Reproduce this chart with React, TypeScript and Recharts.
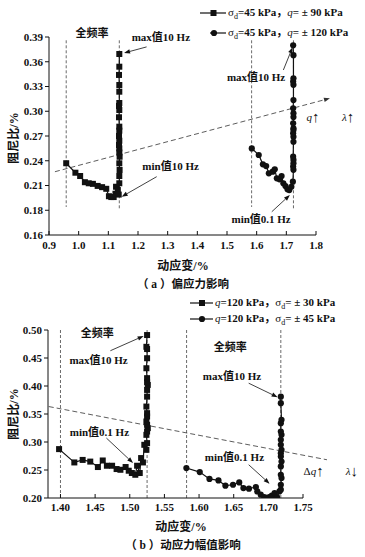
import React from "react";
import { ScatterChart, Scatter, XAxis, YAxis, ReferenceLine, ReferenceDot } from "recharts";

const FONT = "'Liberation Serif', 'Times New Roman', 'Noto Sans CJK SC', serif";
const INK = "#111";

// (a) 偏应力影响 — σd=45 kPa, q=±90 kPa (squares)
const aSqStrain = [
  0.958, 0.989, 1.005, 1.021, 1.034, 1.048, 1.064, 1.079, 1.093, 1.102, 1.11, 1.118, 1.124, 1.126, 1.132, 1.135,
  1.137, 1.137, 1.138, 1.137, 1.138, 1.137, 1.137, 1.136, 1.137, 1.136, 1.137, 1.137, 1.136, 1.137, 1.136, 1.137,
  1.137, 1.137, 1.136, 1.137, 1.137,
];
const aSqDamping = [
  0.237, 0.2255, 0.2215, 0.214, 0.2127, 0.212, 0.2095, 0.208, 0.206, 0.197, 0.196, 0.196, 0.2, 0.2085, 0.2045, 0.199,
  0.2127, 0.2215, 0.2288, 0.2369, 0.2449, 0.25, 0.255, 0.2591, 0.2643, 0.27, 0.2765, 0.2813, 0.2927, 0.3015, 0.3064,
  0.31, 0.3237, 0.3318, 0.344, 0.354, 0.3694,
];
// σd=45 kPa, q=±120 kPa (circles)
const aCiStrain = [
  1.5835, 1.607, 1.621, 1.632, 1.641, 1.654, 1.661, 1.668, 1.677, 1.684, 1.69, 1.697, 1.704, 1.71, 1.717, 1.722,
  1.724, 1.723, 1.724, 1.724, 1.723, 1.724, 1.724, 1.723, 1.724, 1.724, 1.723, 1.724, 1.724, 1.723, 1.724, 1.724,
  1.723, 1.724, 1.724, 1.723,
];
const aCiDamping = [
  0.255, 0.247, 0.2357, 0.2336, 0.2248, 0.2268, 0.2296, 0.2187, 0.2175, 0.2215, 0.2127, 0.2094, 0.2054, 0.2045,
  0.2085, 0.2146, 0.229, 0.233, 0.237, 0.241, 0.245, 0.263, 0.269, 0.2733, 0.2773, 0.2793, 0.2854, 0.293, 0.2975,
  0.3036, 0.3136, 0.332, 0.336, 0.34, 0.368, 0.38,
];
const aXTicks = [0.9, 1.0, 1.1, 1.2, 1.3, 1.4, 1.5, 1.6, 1.7, 1.8];
const aYTicks = [0.15, 0.18, 0.21, 0.24, 0.27, 0.3, 0.33, 0.36, 0.39];
const aYLabels = ["0.16", "0.18", "0.21", "0.24", "0.27", "0.30", "0.33", "0.36", "0.39"];

// (b) 动应力幅值影响 — q=120 kPa, σd=±30 kPa (squares)
const bSqStrain = [
  1.398, 1.42, 1.432, 1.443, 1.454, 1.461, 1.467, 1.4745, 1.481, 1.4865, 1.494, 1.4985, 1.503, 1.508, 1.5106, 1.5144,
  1.5164, 1.519, 1.521, 1.524, 1.525, 1.524, 1.525, 1.526, 1.525, 1.524, 1.525, 1.525, 1.524, 1.525, 1.525, 1.526,
  1.525, 1.525, 1.524, 1.525, 1.525, 1.524, 1.525,
];
const bSqDamping = [
  0.2873, 0.2635, 0.268, 0.265, 0.2553, 0.267, 0.2576, 0.2576, 0.2517, 0.2504, 0.2553, 0.2487, 0.2446, 0.2415, 0.2576,
  0.2446, 0.2713, 0.2635, 0.295, 0.286, 0.298, 0.3128, 0.3187, 0.3248, 0.3307, 0.3366, 0.3455, 0.3515, 0.3633, 0.381,
  0.393, 0.402, 0.4068, 0.414, 0.4317, 0.4496, 0.466, 0.47, 0.491,
];
// q=120 kPa, σd=±45 kPa (circles)
const bCiStrain = [
  1.5817, 1.601, 1.615, 1.628, 1.638, 1.649, 1.658, 1.664, 1.672, 1.682, 1.684, 1.689, 1.694, 1.699, 1.705, 1.709,
  1.7125, 1.716, 1.718, 1.718, 1.719, 1.718, 1.718, 1.719, 1.718, 1.718, 1.719, 1.718, 1.718, 1.719, 1.718, 1.718,
  1.719, 1.718, 1.718,
];
const bCiDamping = [
  0.2535, 0.2463, 0.234, 0.2314, 0.222, 0.2237, 0.2278, 0.2178, 0.2166, 0.2196, 0.2118, 0.2059, 0.2018, 0.2005, 0.2041,
  0.2089, 0.2018, 0.2118, 0.2148, 0.2237, 0.2357, 0.2415, 0.2563, 0.265, 0.274, 0.28, 0.286, 0.295, 0.304, 0.3128,
  0.3187, 0.3337, 0.3396, 0.3693, 0.381,
];
const bXTicks = [1.4, 1.45, 1.5, 1.55, 1.6, 1.65, 1.7, 1.75];
const bYTicks = [0.2, 0.25, 0.3, 0.35, 0.4, 0.45, 0.5];
const bYLabels = ["0.20", "0.25", "0.30", "0.35", "0.40", "0.45", "0.50"];

type Pt = { x: number; y: number };
type Part = { t: string; i?: boolean; big?: boolean };
type Note = { x: number; y: number; parts: Part[] };
type Seg = { x1: number; y1: number; x2: number; y2: number };

const zip = (xs: number[], ys: number[]): Pt[] => xs.map((x, i) => ({ x, y: ys[i] }));

// annotations (data coordinates)
const aGuides: Seg[] = [
  { x1: 0.958, y1: 0.386, x2: 0.958, y2: 0.184 },
  { x1: 1.137, y1: 0.386, x2: 1.137, y2: 0.1815 },
  { x1: 1.583, y1: 0.386, x2: 1.583, y2: 0.184 },
  { x1: 1.724, y1: 0.386, x2: 1.724, y2: 0.1815 },
];
const aTrend: Seg = { x1: 0.92, y1: 0.2267, x2: 1.847, y2: 0.3157 };
const aArrows: Seg[] = [
  { x1: 1.229, y1: 0.378, x2: 1.153, y2: 0.3706 },
  { x1: 1.263, y1: 0.2207, x2: 1.145, y2: 0.1964 },
  { x1: 1.69, y1: 0.35, x2: 1.721, y2: 0.3775 },
  { x1: 1.651, y1: 0.1782, x2: 1.712, y2: 0.1985 },
];
const aNotes: Note[] = [
  { x: 1.045, y: 0.395, parts: [{ t: "全频率" }] },
  { x: 1.277, y: 0.39, parts: [{ t: "max值10 Hz" }] },
  { x: 1.31, y: 0.2336, parts: [{ t: "min值10 Hz" }] },
  { x: 1.598, y: 0.3412, parts: [{ t: "max值10 Hz" }] },
  { x: 1.615, y: 0.169, parts: [{ t: "min值0.1 Hz" }] },
  { x: 1.79, y: 0.2934, parts: [{ t: "q", i: true }, { t: "↑", big: true }] },
  { x: 1.908, y: 0.2934, parts: [{ t: "λ", i: true }, { t: "↑", big: true }] },
];

const bGuides: Seg[] = [
  { x1: 1.4, y1: 0.5, x2: 1.4, y2: 0.2 },
  { x1: 1.525, y1: 0.5, x2: 1.525, y2: 0.2 },
  { x1: 1.582, y1: 0.5, x2: 1.582, y2: 0.2 },
  { x1: 1.718, y1: 0.5, x2: 1.718, y2: 0.2 },
];
const bTrend: Seg = { x1: 1.3831, y1: 0.3633, x2: 1.7846, y2: 0.2683 };
const bArrows: Seg[] = [
  { x1: 1.472, y1: 0.463, x2: 1.52, y2: 0.4893 },
  { x1: 1.6716, y1: 0.405, x2: 1.7134, y2: 0.38 },
  { x1: 1.4663, y1: 0.307, x2: 1.5048, y2: 0.2624 },
  { x1: 1.6716, y1: 0.2594, x2: 1.7018, y2: 0.2255 },
];
const bNotes: Note[] = [
  { x: 1.453, y: 0.495, parts: [{ t: "全频率" }] },
  { x: 1.455, y: 0.4465, parts: [{ t: "max值10 Hz" }] },
  { x: 1.645, y: 0.47, parts: [{ t: "全频率" }] },
  { x: 1.6476, y: 0.418, parts: [{ t: "max值10 Hz" }] },
  { x: 1.4562, y: 0.317, parts: [{ t: "min值0.1 Hz" }] },
  { x: 1.651, y: 0.273, parts: [{ t: "min值0.1 Hz" }] },
  { x: 1.7653, y: 0.2474, parts: [{ t: "Δ" }, { t: "q", i: true }, { t: "↑", big: true }] },
  { x: 1.8207, y: 0.2474, parts: [{ t: "λ", i: true }, { t: "↓", big: true }] },
];

function Square(p: any) {
  return <rect x={p.cx - 3} y={p.cy - 3} width={6} height={6} fill={INK} />;
}
function Dot(p: any) {
  return <circle cx={p.cx} cy={p.cy} r={3.1} fill={INK} />;
}

function ArrowLine(p: any) {
  const { x1, y1, x2, y2, head, dash, color, width } = p;
  if ([x1, y1, x2, y2].some((v) => v == null || Number.isNaN(v))) return null;
  if (!head) {
    return <line x1={x1} y1={y1} x2={x2} y2={y2} stroke={color} strokeWidth={width} strokeDasharray={dash} />;
  }
  const ang = Math.atan2(y2 - y1, x2 - x1);
  const L = 6;
  const W = 2.2;
  const bx = x2 - L * Math.cos(ang);
  const by = y2 - L * Math.sin(ang);
  const pts = `${x2},${y2} ${bx - W * Math.sin(ang)},${by + W * Math.cos(ang)} ${bx + W * Math.sin(ang)},${by - W * Math.cos(ang)}`;
  return (
    <g>
      <line x1={x1} y1={y1} x2={bx} y2={by} stroke={color} strokeWidth={width} strokeDasharray={dash} />
      <polygon points={pts} fill={color} />
    </g>
  );
}

function NoteText({ cx, cy, parts }: { cx: number; cy: number; parts: Part[] }) {
  return (
    <text
      x={cx}
      y={cy}
      textAnchor="middle"
      dominantBaseline="central"
      fontFamily={FONT}
      fontSize={11}
      fontWeight="bold"
      fill={INK}
    >
      {parts.map((pt, i) => (
        <tspan
          key={i}
          fontStyle={pt.i ? "italic" : "normal"}
          fontWeight={pt.t.length === 1 ? "normal" : "bold"}
          fontSize={pt.big ? 15 : 11}
        >
          {pt.t}
        </tspan>
      ))}
    </text>
  );
}

type PanelCfg = {
  height: number;
  margin: { top: number; right: number; bottom: number; left: number };
  xDomain: [number, number];
  xTicks: number[];
  xDigits: number;
  xAxisHeight: number;
  xTickMargin: number;
  yDomain: [number, number];
  yTicks: number[];
  yLabels: string[];
  yAxisWidth: number;
  squares: Pt[];
  circles: Pt[];
  guides: Seg[];
  trend: Seg;
  trendHead: boolean;
  arrows: Seg[];
  notes: Note[];
};

const tickStyle = { fill: INK, fontSize: 11, fontFamily: FONT, fontWeight: "bold" };

function Panel({ cfg }: { cfg: PanelCfg }) {
  const seg = (s: Seg, key: string, opts: any) => (
    <ReferenceLine
      key={key}
      segment={[
        { x: s.x1, y: s.y1 },
        { x: s.x2, y: s.y2 },
      ]}
      ifOverflow="visible"
      shape={(props: any) => <ArrowLine {...props} {...opts} />}
    />
  );
  return (
    <ScatterChart width={365} height={cfg.height} margin={cfg.margin}>
      <XAxis
        type="number"
        dataKey="x"
        domain={cfg.xDomain}
        ticks={cfg.xTicks}
        interval={0}
        allowDataOverflow
        height={cfg.xAxisHeight}
        tickFormatter={(v: number) => v.toFixed(cfg.xDigits)}
        tickSize={-4}
        tickMargin={cfg.xTickMargin}
        axisLine={{ stroke: INK }}
        tickLine={{ stroke: INK }}
        tick={tickStyle}
      />
      <YAxis
        type="number"
        dataKey="y"
        domain={cfg.yDomain}
        ticks={cfg.yTicks}
        interval={0}
        allowDataOverflow
        width={cfg.yAxisWidth}
        tickFormatter={(v: number) => cfg.yLabels[cfg.yTicks.findIndex((t) => Math.abs(t - v) < 1e-6)] ?? ""}
        tickSize={4}
        tickMargin={2}
        axisLine={{ stroke: INK }}
        tickLine={{ stroke: INK }}
        tick={tickStyle}
      />
      {cfg.guides.map((g, i) => seg(g, `g${i}`, { color: "#444", width: 0.8, dash: "3 2" }))}
      {seg(cfg.trend, "trend", { color: "#333", width: 0.8, dash: "5 3", head: cfg.trendHead })}
      {cfg.arrows.map((a, i) => seg(a, `a${i}`, { color: INK, width: 0.8, head: true }))}
      <Scatter
        data={cfg.squares}
        line={{ stroke: INK, strokeWidth: 1.2 }}
        lineType="joint"
        shape={Square}
        isAnimationActive={false}
      />
      <Scatter
        data={cfg.circles}
        line={{ stroke: INK, strokeWidth: 1.2 }}
        lineType="joint"
        shape={Dot}
        isAnimationActive={false}
      />
      {cfg.notes.map((n, i) => (
        <ReferenceDot
          key={`n${i}`}
          x={n.x}
          y={n.y}
          r={0}
          ifOverflow="visible"
          shape={(p: any) => <NoteText cx={p.cx} cy={p.cy} parts={n.parts} />}
        />
      ))}
    </ScatterChart>
  );
}

const panelA: PanelCfg = {
  height: 255,
  margin: { top: 37, right: 49, bottom: 0, left: 0 },
  xDomain: [0.9, 1.8],
  xTicks: aXTicks,
  xDigits: 1,
  xAxisHeight: 20,
  xTickMargin: 10,
  yDomain: [0.15, 0.39],
  yTicks: aYTicks,
  yLabels: aYLabels,
  yAxisWidth: 49,
  squares: zip(aSqStrain, aSqDamping),
  circles: zip(aCiStrain, aCiDamping),
  guides: aGuides,
  trend: aTrend,
  trendHead: true,
  arrows: aArrows,
  notes: aNotes,
};

const panelB: PanelCfg = {
  height: 230,
  margin: { top: 40, right: 62, bottom: 0, left: 0 },
  xDomain: [1.382, 1.75],
  xTicks: bXTicks,
  xDigits: 2,
  xAxisHeight: 22,
  xTickMargin: 9,
  yDomain: [0.2, 0.5],
  yTicks: bYTicks,
  yLabels: bYLabels,
  yAxisWidth: 48,
  squares: zip(bSqStrain, bSqDamping),
  circles: zip(bCiStrain, bCiDamping),
  guides: bGuides,
  trend: bTrend,
  trendHead: false,
  arrows: bArrows,
  notes: bNotes,
};

function LegendRow({ top, lineFrom, markerX, textLeft, marker, children }: any) {
  const w = textLeft - lineFrom;
  return (
    <div style={{ position: "absolute", top: top - 7, left: lineFrom, height: 14, display: "flex", alignItems: "center", whiteSpace: "nowrap" }}>
      <svg width={w} height={14} style={{ display: "block" }}>
        <line x1={0} y1={7} x2={w - 2} y2={7} stroke={INK} strokeWidth={1.2} />
        {marker === "square" ? (
          <rect x={markerX - lineFrom - 3} y={4} width={6} height={6} fill={INK} />
        ) : (
          <circle cx={markerX - lineFrom} cy={7} r={3.1} fill={INK} />
        )}
      </svg>
      <span style={{ fontSize: 11, lineHeight: "14px", color: INK, fontWeight: "bold" }}>{children}</span>
    </div>
  );
}

const Sub = ({ children }: any) => (
  <span style={{ fontSize: 8, position: "relative", top: 3, fontWeight: "normal" }}>{children}</span>
);
const Q = () => <i style={{ fontWeight: "normal" }}>q</i>;
const Sigma = () => <span style={{ fontWeight: "normal" }}>σ</span>;

function Centered({ x, y, size, children, rotate }: any) {
  return (
    <div
      style={{
        position: "absolute",
        left: x - 100,
        top: y - 8,
        width: 200,
        height: 16,
        lineHeight: "16px",
        textAlign: "center",
        fontSize: size,
        color: INK,
        fontWeight: "bold",
        transform: rotate ? "rotate(-90deg)" : undefined,
        whiteSpace: "nowrap",
      }}
    >
      {children}
    </div>
  );
}

export default function App() {
  return (
    <div style={{ position: "absolute", left: 0, top: 0, width: 365, height: 557, background: "#fff", fontFamily: FONT, overflow: "hidden" }}>
      <div style={{ position: "absolute", left: 0, top: 0 }}>
        <Panel cfg={panelA} />
      </div>
      <div style={{ position: "absolute", left: 0, top: 290 }}>
        <Panel cfg={panelB} />
      </div>

      <LegendRow top={13.3} lineFrom={200} markerX={213.5} textLeft={228} marker="square">
        <Sigma /><Sub>d</Sub>=45 kPa，<Q />= ± 90 kPa
      </LegendRow>
      <LegendRow top={33.3} lineFrom={210} markerX={214} textLeft={228} marker="circle">
        <Sigma /><Sub>d</Sub>=45 kPa，<Q />= ± 120 kPa
      </LegendRow>
      <LegendRow top={303.3} lineFrom={190} markerX={202} textLeft={215} marker="square">
        <Q />=120 kPa，<Sigma /><Sub>d</Sub>= ± 30 kPa
      </LegendRow>
      <LegendRow top={319.3} lineFrom={190} markerX={202} textLeft={215} marker="circle">
        <Q />=120 kPa，<Sigma /><Sub>d</Sub>= ± 45 kPa
      </LegendRow>

      <Centered x={14} y={138} size={12} rotate>阻尼比/%</Centered>
      <Centered x={183} y={266} size={12}>动应变/%</Centered>
      <Centered x={183} y={284} size={11.5}>（ a ）偏应力影响</Centered>

      <Centered x={14} y={414} size={12} rotate>阻尼比/%</Centered>
      <Centered x={181} y={527} size={12}>动应变/%</Centered>
      <Centered x={183} y={545} size={11.5}>（ b ）动应力幅值影响</Centered>
    </div>
  );
}
